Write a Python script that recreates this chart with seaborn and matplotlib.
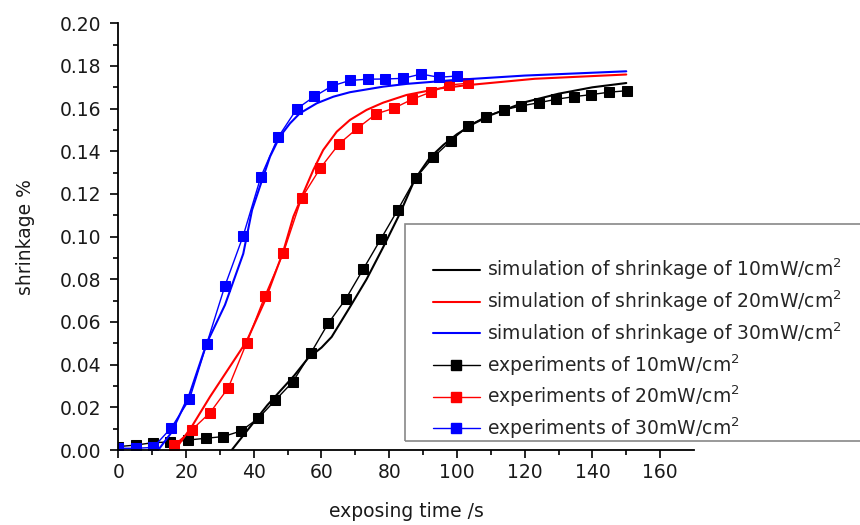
import numpy as np
import pandas as pd
import seaborn as sns
import matplotlib
matplotlib.use("Agg")
import matplotlib.pyplot as plt
from matplotlib.lines import Line2D
from matplotlib.patches import Rectangle

# ---------------- data ----------------
# experiments
exp10_t = [0, 5.1, 10.1, 15.4, 20.7, 25.9, 31.0, 36.2, 41.3, 46.4, 51.5, 56.8, 62.0, 67.1, 72.3,
           77.6, 82.5, 87.8, 93.0, 98.2, 103.3, 108.6, 113.9, 119.0, 124.3, 129.3, 134.5, 139.7, 144.9, 150.1]
exp10_v = [0.0016, 0.0023, 0.0034, 0.0038, 0.0047, 0.0055, 0.0063, 0.0089, 0.0148, 0.0234, 0.0319,
           0.0453, 0.0594, 0.0706, 0.0847, 0.0991, 0.1125, 0.1274, 0.1372, 0.1449, 0.1519, 0.1563,
           0.1594, 0.1613, 0.1628, 0.1644, 0.1656, 0.1666, 0.1677, 0.1684]

exp20_t = [16.5, 21.7, 27.1, 32.5, 37.9, 43.3, 48.7, 54.1, 59.6, 65.2, 70.6, 76.1, 81.4, 86.8, 92.2, 97.7, 103.2]
exp20_v = [0.0023, 0.0094, 0.0175, 0.0292, 0.0503, 0.0722, 0.0922, 0.1180, 0.1320, 0.1435, 0.1508,
           0.1575, 0.1602, 0.1644, 0.1677, 0.1711, 0.1719]

exp30_t = [0, 5.1, 10.3, 15.6, 21.0, 26.1, 31.5, 36.9, 42.1, 47.2, 52.7, 57.9, 63.2, 68.4, 73.6,
           78.9, 84.1, 89.4, 94.7, 100.1]
exp30_v = [0.0008, 0.0008, 0.0012, 0.0103, 0.0237, 0.0497, 0.0770, 0.1005, 0.1281, 0.1466, 0.1599,
           0.1657, 0.1707, 0.1732, 0.1738, 0.1739, 0.1742, 0.1762, 0.1747, 0.1753]

# simulations
sim10_t = [33.5, 36, 40, 44, 48, 52, 56, 60, 63, 68.4, 73.3, 78.2, 83.2, 87.6, 92, 96, 100, 105,
           110, 115, 120, 130, 140, 150]
sim10_v = [0.0, 0.005, 0.013, 0.021, 0.028, 0.035, 0.043, 0.048, 0.053, 0.067, 0.080, 0.095, 0.111,
           0.127, 0.137, 0.143, 0.148, 0.153, 0.157, 0.160, 0.163, 0.167, 0.170, 0.172]

sim20_t = [16.7, 21.7, 27.1, 32.5, 37.9, 43.3, 48.7, 51.7, 54.6, 57.6, 60.5, 64.5, 68.4, 73.3, 78.2,
           85.1, 95, 103, 123, 150]
sim20_v = [0.0, 0.011, 0.025, 0.038, 0.051, 0.070, 0.093, 0.1094, 0.1203, 0.1313, 0.1406, 0.1492,
           0.1547, 0.1594, 0.1628, 0.1664, 0.1695, 0.171, 0.174, 0.176]

sim30_t = [11.8, 15.6, 21.0, 26.1, 31.5, 36.9, 39.5, 41.8, 44.8, 47.7, 50.7, 53.6, 58.6, 63.5, 68.4,
           78.2, 85.1, 100, 120, 150]
sim30_v = [0.0, 0.008, 0.026, 0.050, 0.068, 0.092, 0.1125, 0.1234, 0.1375, 0.1469, 0.1531, 0.1578,
           0.1625, 0.1656, 0.1677, 0.1703, 0.1716, 0.1735, 0.1755, 0.1775]

labels_sim = ["simulation of shrinkage of 10mW/cm$^2$",
              "simulation of shrinkage of 20mW/cm$^2$",
              "simulation of shrinkage of 30mW/cm$^2$"]
labels_exp = ["experiments of 10mW/cm$^2$",
              "experiments of 20mW/cm$^2$",
              "experiments of 30mW/cm$^2$"]
colors = ["#000000", "#ff0000", "#0000ff"]

x_ticks = [0, 20, 40, 60, 80, 100, 120, 140, 160]
y_ticks = [0.00, 0.02, 0.04, 0.06, 0.08, 0.10, 0.12, 0.14, 0.16, 0.18, 0.20]

# ---------------- style ----------------
sns.set_theme(style="ticks")
plt.rcParams['font.family'] = ["DejaVu Sans"]
plt.rcParams['mathtext.fontset'] = 'dejavusans'

FS = 13.5
fig = plt.figure(figsize=(8.6, 5.25), dpi=100)
ax = fig.add_axes([118.3 / 860, 1 - 450 / 525, (694 - 118.3) / 860, (450 - 23.3) / 525])

sims = [(sim10_t, sim10_v), (sim20_t, sim20_v), (sim30_t, sim30_v)]
exps = [(exp10_t, exp10_v), (exp20_t, exp20_v), (exp30_t, exp30_v)]

for (t, v), c in zip(exps, colors):
    sns.lineplot(x=t, y=v, ax=ax, color=c, linewidth=1.0, marker="s", markersize=6.5,
                 markeredgecolor=c, sort=False, estimator=None)
for (t, v), c in zip(sims, colors):
    sns.lineplot(x=t, y=v, ax=ax, color=c, linewidth=1.5, sort=False, estimator=None)

ax.set_xlim(0, 170)
ax.set_ylim(0, 0.20)
ax.set_xticks(x_ticks)
ax.set_xticklabels([str(x) for x in x_ticks])
ax.set_yticks(y_ticks)
ax.set_yticklabels([f"{y:.2f}" for y in y_ticks])
ax.set_xticks(np.arange(10, 170, 20), minor=True)
ax.set_yticks(np.arange(0.01, 0.20, 0.02), minor=True)
ax.tick_params(axis="both", which="major", direction="out", length=6, width=1.2,
               labelsize=FS, color="black", labelcolor="#1a1a1a")
ax.tick_params(axis="x", which="major", pad=3)
ax.tick_params(axis="y", which="major", pad=6)
ax.tick_params(axis="both", which="minor", direction="out", length=3.5, width=1.2, color="black")
for s in ["top", "right"]:
    ax.spines[s].set_visible(False)
for s in ["left", "bottom"]:
    ax.spines[s].set_linewidth(1.3)
    ax.spines[s].set_color("black")

ax.set_xlabel("exposing time /s", fontsize=FS, color="#1a1a1a", labelpad=15)
ax.set_ylabel("shrinkage %", fontsize=FS, color="#1a1a1a", labelpad=18)

# legend box
fig.patches.append(Rectangle((405 / 860, 1 - 441 / 525), 0.6, (441 - 224) / 525,
                             transform=fig.transFigure, fill=False, edgecolor="#888888",
                             linewidth=1.2, zorder=5))
handles = [Line2D([], [], color=c, linewidth=1.5) for c in colors] + \
          [Line2D([], [], color=c, linewidth=1.0, marker="s", markersize=6.5) for c in colors]
leg = fig.legend(handles, labels_sim + labels_exp, loc="upper left",
                 bbox_to_anchor=(433 / 860, 1 - 257 / 525), frameon=False,
                 fontsize=FS, handlelength=2.5, handletextpad=0.4, labelspacing=0.33,
                 borderpad=0, borderaxespad=0)

fig.savefig("out.png", dpi=100)
